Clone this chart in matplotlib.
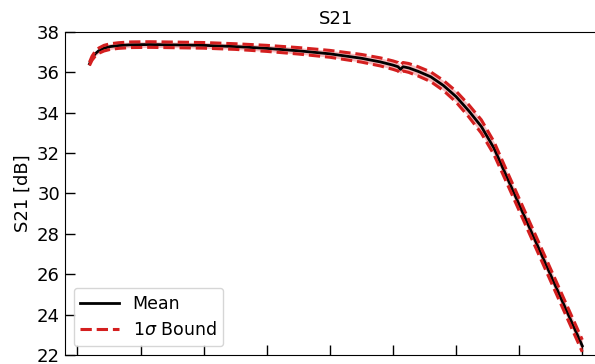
import numpy as np
import matplotlib
matplotlib.use("Agg")
import matplotlib.pyplot as plt

# frequency axis (tick units) and S21 values
freq = [0.19, 0.23, 0.28, 0.34, 0.42, 0.52, 0.65, 0.85, 1.15, 1.6, 2.0, 2.5, 3.0, 3.5,
        4.0, 4.5, 4.8, 5.0, 5.08, 5.12, 5.16, 5.25, 5.4, 5.6, 5.8, 6.0, 6.2, 6.4, 6.6,
        6.8, 7.0, 7.3, 7.6, 8.0]
s21_mean = [36.42, 36.70, 36.92, 37.08, 37.20, 37.28, 37.33, 37.37, 37.38, 37.36, 37.34,
            37.28, 37.19, 37.07, 36.92, 36.70, 36.52, 36.36, 36.28, 36.15, 36.28, 36.22,
            36.05, 35.78, 35.35, 34.80, 34.10, 33.32, 32.25, 30.85, 29.45, 27.35, 25.25,
            22.45]
s21_upper = [36.50, 36.80, 37.04, 37.21, 37.34, 37.42, 37.47, 37.51, 37.52, 37.50, 37.48,
             37.42, 37.34, 37.23, 37.09, 36.89, 36.72, 36.57, 36.49, 36.36, 36.49, 36.44,
             36.28, 36.02, 35.60, 35.07, 34.40, 33.65, 32.57, 31.15, 29.75, 27.65, 25.55,
             22.75]
s21_lower = [36.34, 36.60, 36.80, 36.95, 37.06, 37.14, 37.19, 37.23, 37.24, 37.22, 37.20,
             37.14, 37.04, 36.91, 36.75, 36.51, 36.32, 36.15, 36.07, 35.94, 36.07, 36.00,
             35.82, 35.54, 35.10, 34.53, 33.80, 32.99, 31.93, 30.55, 29.15, 27.05, 24.95,
             22.15]
x_ticks = [0, 1, 2, 3, 4, 5, 6, 7, 8]
y_ticks = [22, 24, 26, 28, 30, 32, 34, 36, 38]

fig = plt.figure(figsize=(5.95, 3.64), dpi=100)
ax = fig.add_axes([0.109, 0.025, 0.912, 0.887])

ax.fill_between(freq, s21_lower, s21_upper, color="#e8202a", alpha=0.3, lw=0)
ax.plot(freq, s21_mean, c="black", lw=2, label="Mean")
ax.plot(freq, s21_upper, c="#d41f1f", lw=2.2, ls="--", label=r"1$\sigma$ Bound")
ax.plot(freq, s21_lower, c="#d41f1f", lw=2.2, ls="--")

ax.set_xlim(-0.2, 8.4)
ax.set_ylim(22, 38)
ax.set_xticks(x_ticks)
ax.set_xticklabels([])
ax.set_yticks(y_ticks)
ax.tick_params(direction="in", length=7, width=1, labelsize=13)
ax.set_ylabel("S21 [dB]", fontsize=13)
ax.set_title("S21", fontsize=13, pad=6)
ax.legend(loc="lower left", fontsize=12.5, handlelength=2.2, borderaxespad=0.5)

fig.savefig("out.png", dpi=100)
